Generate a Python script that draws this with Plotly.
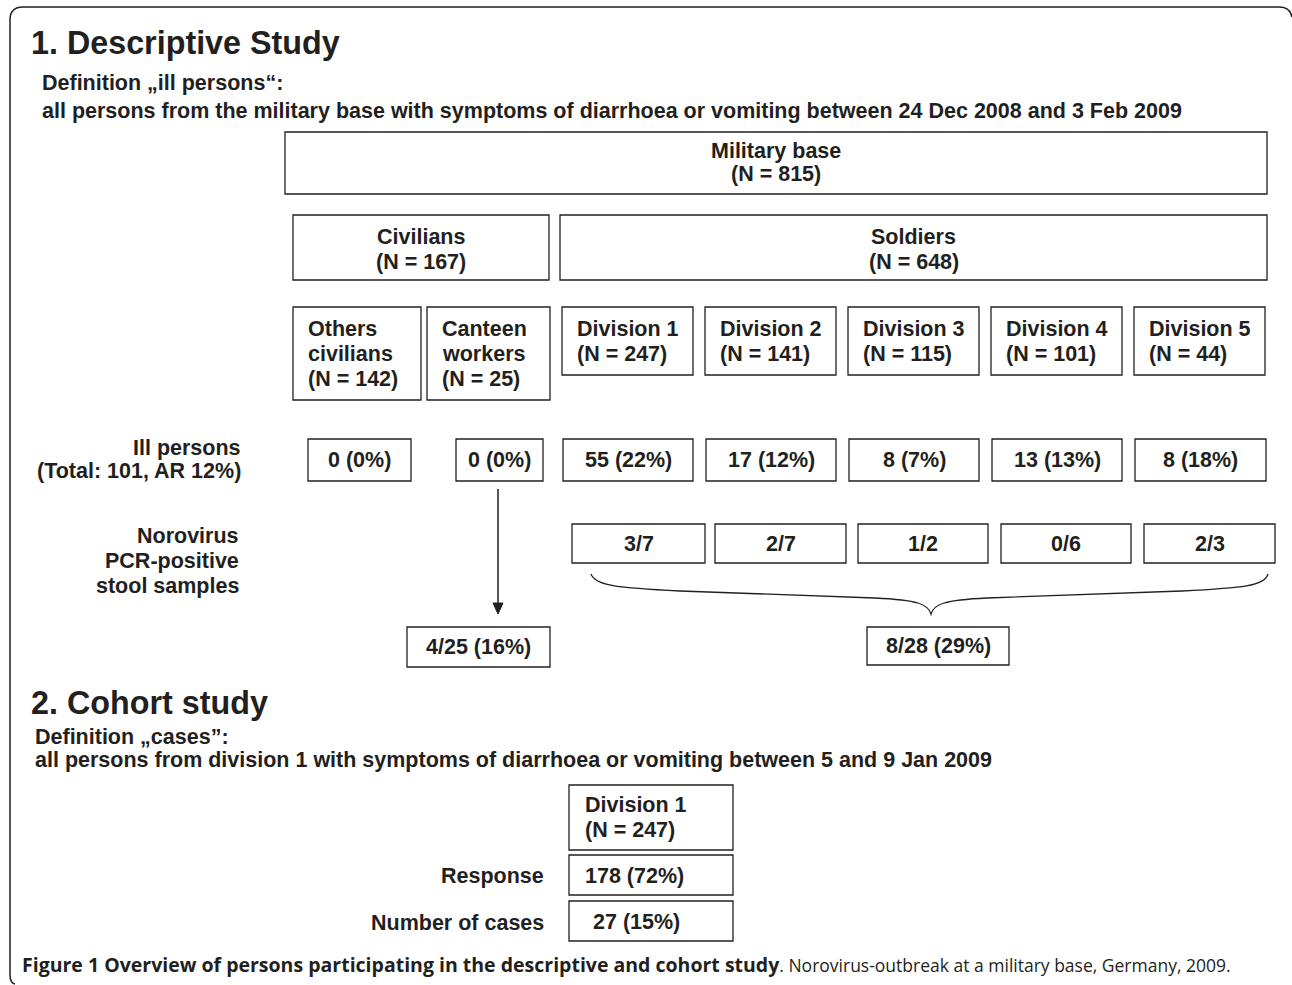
import plotly.graph_objects as go

# ---------------- data ----------------
base_label = "Military base"
base_n = 815
group_labels = ["Civilians", "Soldiers"]
group_n = [167, 648]
subgroup_labels = [["Others", "civilians"], ["Canteen", "workers"],
                   ["Division 1"], ["Division 2"], ["Division 3"], ["Division 4"], ["Division 5"]]
subgroup_n = [142, 25, 247, 141, 115, 101, 44]
ill_counts = [0, 0, 55, 17, 8, 13, 8]
ill_pct = [0, 0, 22, 12, 7, 13, 18]
ill_total = 101
ill_ar = 12
pcr_pos = [3, 2, 1, 0, 2]
pcr_tested = [7, 7, 2, 6, 3]
canteen_pcr = [4, 25, 16]
soldier_pcr = [8, 28, 29]
cohort_label = "Division 1"
cohort_n = 247
cohort_response = [178, 72]
cohort_cases = [27, 15]
caption_bold = "Figure 1 Overview of persons participating in the descriptive and cohort study"
caption_rest = ". Norovirus-outbreak at a military base, Germany, 2009."

# ---------------- style ----------------
INK = "#231f20"
FONT = "Liberation Sans"
FS = 21.5
W, H = 1292, 985

fig = go.Figure()
fig.add_trace(go.Scatter(x=[0, W], y=[0, H], mode="markers",
                         marker=dict(opacity=0), hoverinfo="skip", showlegend=False))

shapes = []
annos = []


def box(x0, y0, x1, y1):
    shapes.append(dict(type="rect", xref="x", yref="y", x0=x0, y0=y0, x1=x1, y1=y1,
                       line=dict(color=INK, width=1.3), fillcolor="rgba(0,0,0,0)"))


def text(x, y, s, anchor="left", size=FS, bold=True, family=FONT, color=INK):
    annos.append(dict(x=x, y=y, xref="x", yref="y", text=("<b>%s</b>" % s) if bold else s,
                      showarrow=False, xanchor=anchor, yanchor="middle",
                      font=dict(family=family, size=size, color=color)))


# outer frame (partial rounded border)
shapes.append(dict(type="path", xref="x", yref="y",
                   path="M 15 984 Q 10 983 10 975 L 10 20 Q 10 7 23 7 L 1279 7 Q 1290 7 1292 17",
                   line=dict(color=INK, width=1.5)))

# ---------------- Section 1 ----------------
text(29, 43, "1. Descriptive Study", size=32.3)
text(40, 83, "Definition „ill persons“:")
text(40, 111, "all persons from the military base with symptoms of diarrhoea or vomiting between 24 Dec 2008 and 3 Feb 2009")

# Military base
box(285, 132, 1267, 194)
text(776, 151, base_label, anchor="center")
text(776, 174, "(N = %d)" % base_n, anchor="center")

# Civilians / Soldiers
grp_x = [(293, 549), (560, 1267)]
for (x0, x1), lab, n in zip(grp_x, group_labels, group_n):
    box(x0, 215, x1, 280)
    text((x0 + x1) / 2, 237, lab, anchor="center")
    text((x0 + x1) / 2, 262, "(N = %d)" % n, anchor="center")

# subgroups
sub_x = [(293, 421), (427, 550), (562, 693), (705, 836), (848, 979), (991, 1122), (1134, 1265)]
for (x0, x1), lab, n in zip(sub_x, subgroup_labels, subgroup_n):
    lines = lab + ["(N = %d)" % n]
    y1 = 307 + 25 * len(lines) + 18
    box(x0, 307, x1, y1)
    for i, ln in enumerate(lines):
        text(x0 + 13, 329 + 25 * i, ln)

# ill persons row
text(243, 448, "Ill persons", anchor="right")
text(243, 471, "(Total: %d, AR %d%%)" % (ill_total, ill_ar), anchor="right")
ill_x = [(308, 411), (456, 543), (563, 693), (706, 836), (849, 979), (992, 1122), (1135, 1266)]
for (x0, x1), c, p in zip(ill_x, ill_counts, ill_pct):
    box(x0, 439, x1, 481)
    text((x0 + x1) / 2, 460, "%d (%d%%)" % (c, p), anchor="center")

# PCR row
text(241, 536, "Norovirus", anchor="right")
text(241, 561, "PCR-positive", anchor="right")
text(241, 586, "stool samples", anchor="right")
pcr_x = [(572, 705), (715, 846), (858, 988), (1001, 1131), (1144, 1275)]
for (x0, x1), a, b in zip(pcr_x, pcr_pos, pcr_tested):
    box(x0, 524, x1, 563)
    text((x0 + x1) / 2, 544, "%d/%d" % (a, b), anchor="center")

# arrow from canteen workers
shapes.append(dict(type="line", xref="x", yref="y", x0=498, y0=489, x1=498, y1=604,
                   line=dict(color=INK, width=1.5)))
shapes.append(dict(type="path", xref="x", yref="y", path="M 493 603 L 503 603 L 498 614 Z",
                   line=dict(color=INK, width=1), fillcolor=INK))

# brace over soldiers' PCR boxes
shapes.append(dict(type="path", xref="x", yref="y",
                   path=("M 591 574 C 595 586 620 588 680 591 L 875 598 "
                         "C 918 600 928 604 931 614 C 934 604 944 600 987 598 "
                         "L 1182 591 C 1242 588 1265 586 1268 574"),
                   line=dict(color=INK, width=1.3)))

box(407, 627, 550, 667)
text(478.5, 647, "%d/%d (%d%%)" % tuple(canteen_pcr), anchor="center")
box(867, 627, 1009, 665)
text(938, 646, "%d/%d (%d%%)" % tuple(soldier_pcr), anchor="center")

# ---------------- Section 2 ----------------
text(29, 703, "2. Cohort study", size=32.3)
text(33, 737, "Definition „cases”:")
text(33, 760, "all persons from division 1 with symptoms of diarrhoea or vomiting between 5 and 9 Jan 2009")

box(569, 785, 733, 850)
text(583, 805, cohort_label)
text(583, 830, "(N = %d)" % cohort_n)

text(546, 876, "Response", anchor="right")
box(569, 855, 733, 895)
text(583, 876, "%d (%d%%)" % tuple(cohort_response))

text(546, 923, "Number of cases", anchor="right")
box(569, 901, 733, 941)
text(591, 922, "%d (%d%%)" % tuple(cohort_cases))

# caption
annos.append(dict(x=20, y=964, xref="x", yref="y", showarrow=False, xanchor="left", yanchor="middle",
                  text=("<b>%s</b><span style=\"font-size:17.5px\">%s</span>" % (caption_bold, caption_rest)),
                  font=dict(family="Open Sans", size=19.5, color=INK)))

fig.update_layout(
    width=W, height=H, margin=dict(l=0, r=0, t=0, b=0),
    paper_bgcolor="white", plot_bgcolor="white",
    xaxis=dict(range=[0, W], visible=False, fixedrange=True),
    yaxis=dict(range=[H, 0], visible=False, fixedrange=True),
    shapes=shapes, annotations=annos, showlegend=False,
)

fig.write_html("out.html", config={"displayModeBar": False},
               post_script="document.body.style.margin='0';document.body.style.overflow='hidden';")
